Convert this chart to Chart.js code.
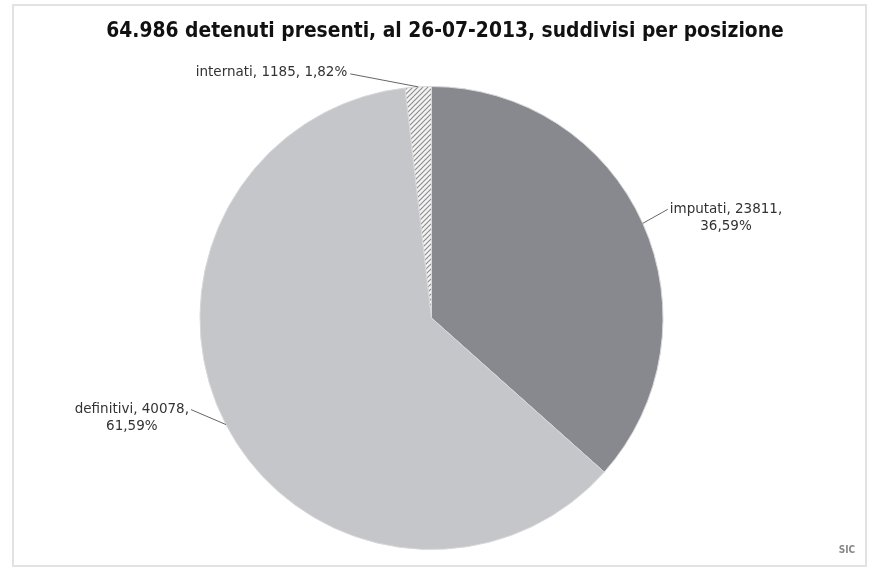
<!DOCTYPE html>
<html>
<head>
<meta charset="utf-8">
<script src="https://cdn.jsdelivr.net/npm/chart.js"></script>
<style>
  html, body { margin: 0; padding: 0; background: #fff; }
  #wrap { position: relative; width: 869px; height: 570px; }
</style>
</head>
<body>
<div id="wrap"><canvas id="pieChart" width="869" height="570"></canvas></div>
<script>
// dati: detenuti presenti al 26-07-2013
var categorie = ['imputati', 'definitivi', 'internati'];
var detenuti = [23811, 40078, 1185];
var percentuali = ['36,59%', '61,59%', '1,82%'];
var titolo = '64.986 detenuti presenti, al 26-07-2013, suddivisi per posizione';

// pattern tratteggiato per gli internati
function hatchPattern(ctx) {
    var c = document.createElement('canvas');
    c.width = 5; c.height = 5;
    var p = c.getContext('2d');
    p.fillStyle = '#f4f4f4';
    p.fillRect(0, 0, 5, 5);
    p.strokeStyle = '#8e8e8e';
    p.lineWidth = 1.2;
    p.beginPath();
    p.moveTo(0, 5); p.lineTo(5, 0);
    p.moveTo(-1, 1); p.lineTo(1, -1);
    p.moveTo(4, 6); p.lineTo(6, 4);
    p.stroke();
    return ctx.createPattern(c, 'repeat');
}

var ctx = document.getElementById('pieChart').getContext('2d');

// etichette con linee di collegamento (offset rispetto al bordo della fetta)
var etichette = [
    { dx: 25, dy: -14, align: 'left' },
    { dx: -35, dy: -15, align: 'right' },
    { dx: -68, dy: -13, align: 'right' }
];

var cornice = {
    id: 'cornice',
    beforeDraw: function(chart) {
        var c = chart.ctx;
        c.save();
        c.fillStyle = '#fff';
        c.fillRect(0, 0, chart.width, chart.height);
        c.strokeStyle = '#e2e2e2';
        c.lineWidth = 2;
        c.strokeRect(13, 5, 853, 561);
        c.restore();
    },
    afterDraw: function(chart) {
        var c = chart.ctx;
        var meta = chart.getDatasetMeta(0);
        c.save();
        // titolo (centrato sulla cornice, non sul grafico)
        c.font = 'bold 20.8px "DejaVu Sans Condensed", "Liberation Sans Narrow", sans-serif';
        c.fillStyle = '#111';
        c.textAlign = 'center';
        c.textBaseline = 'middle';
        c.fillText(titolo, 445, 32);

        c.font = '13.5px "DejaVu Sans", sans-serif';
        c.fillStyle = '#333';
        c.strokeStyle = '#666';
        c.lineWidth = 1;
        meta.data.forEach(function(arc, i) {
            var mid = (arc.startAngle + arc.endAngle) / 2;
            var ex = arc.x + Math.cos(mid) * arc.outerRadius;
            var ey = arc.y + Math.sin(mid) * arc.outerRadius;
            var e = etichette[i];
            var lx = ex + e.dx, ly = ey + e.dy;
            c.beginPath();
            c.moveTo(ex, ey);
            c.lineTo(lx, ly);
            c.stroke();
            c.textBaseline = 'middle';
            var riga1, riga2;
            if (i === 2) {
                riga1 = categorie[i] + ', ' + detenuti[i] + ', ' + percentuali[i];
                c.textAlign = 'right';
                c.fillText(riga1, lx - 3, ly - 1);
            } else {
                riga1 = categorie[i] + ', ' + detenuti[i] + ',';
                riga2 = percentuali[i];
                var w = c.measureText(riga1).width;
                var x0 = e.align === 'left' ? lx + 2 : lx - 2 - w;
                c.textAlign = 'left';
                c.fillText(riga1, x0, ly);
                c.textAlign = 'center';
                c.fillText(riga2, x0 + w / 2, ly + 17);
            }
        });
        // logo in basso a destra
        c.font = 'bold 10px "DejaVu Sans Condensed", "DejaVu Sans", sans-serif';
        c.fillStyle = '#888';
        c.textAlign = 'center';
        c.fillText('SIC', 847, 550);
        c.restore();
    }
};

var pieChart = new Chart(ctx, {
    type: 'pie',
    data: {
        labels: categorie,
        datasets: [{
            data: detenuti,
            backgroundColor: ['#88898f', '#c5c6ca', hatchPattern(ctx)],
            borderColor: '#d8d8da',
            borderWidth: 1
        }]
    },
    options: {
        responsive: false,
        animation: false,
        layout: { padding: { left: 0, right: 6, top: 86, bottom: 20 } },
        plugins: {
            legend: { display: false },
            tooltip: { enabled: false },
            title: { display: false }
        }
    },
    plugins: [cornice]
});
</script>
</body>
</html>
